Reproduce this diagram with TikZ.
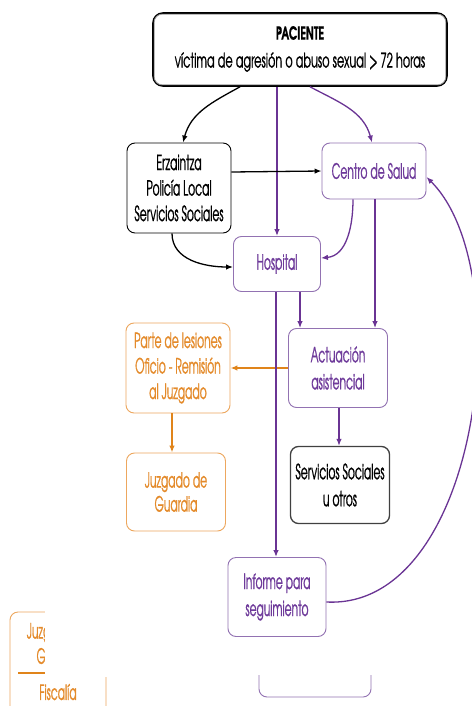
\documentclass[tikz,border=0pt]{standalone}
\usepackage{fontspec}
\setmainfont{texgyreadventor}[Extension=.otf,UprightFont=*-regular,BoldFont=*-bold,FakeStretch=0.51,FakeBold=0.8,BoldFeatures={FakeStretch=0.6}]
\newfontfamily\subfont{texgyreadventor}[Extension=.otf,UprightFont=*-regular,FakeStretch=0.56,FakeBold=0.8]
\usetikzlibrary{arrows.meta,calc}
\definecolor{pur}{HTML}{6A3494}
\definecolor{purb}{HTML}{9272B2}
\definecolor{purt}{HTML}{6E3A9A}
\definecolor{org}{HTML}{E0841A}
\definecolor{orgb}{HTML}{EDA75E}
\definecolor{orgt}{HTML}{E48A2A}
\tikzset{
  base/.style={rounded corners=8pt, align=center, inner sep=0pt, font=\fontsize{21}{25.5}\selectfont},
  pbox/.style={base, draw=purb, line width=0.9pt, text=purt},
  obox/.style={base, draw=orgb, line width=0.9pt, text=orgt},
  kbox/.style={base, draw=black, line width=0.9pt, text=black},
  gbox/.style={base, draw=black!75, line width=1.3pt, text=black},
  tip/.style={-{Latex[length=7pt,width=5.5pt]}},
  pline/.style={tip, draw=pur, line width=1.3pt},
  kline/.style={tip, draw=black, line width=1.3pt},
  oline/.style={tip, draw=org, line width=1.6pt},
}
\begin{document}
\begin{tikzpicture}[x=1pt,y=-1pt]
\useasboundingbox (0,0) rectangle (471,706);
\fill[white] (0,0) rectangle (471,706);

% nodes
\node[gbox, draw=black, line width=1.6pt, rounded corners=10pt, minimum width=294pt, minimum height=73pt] (pac) at (300,49.5) {};
\draw[black!40, line width=0.8pt, rounded corners=8pt] ([shift={(2pt,-2pt)}]pac.north west) rectangle ([shift={(-2pt,2pt)}]pac.south east);
\node[font=\fontsize{18}{20}\selectfont\bfseries] (pact) at (300,33) {PACIENTE};
\node[font=\fontsize{20}{22}\subfont] (pacs) at (300,62) {víctima de agresión o abuso sexual > 72 horas};

\node[kbox, minimum width=104pt, minimum height=90pt] (erz) at (179,188) {Erzaintza\\Policía Local\\Servicios Sociales};
\node[pbox, minimum width=104pt, minimum height=56pt] (cen) at (374,171) {Centro de Salud};
\node[pbox, minimum width=87pt, minimum height=55pt] (hos) at (277,264) {Hospital};
\node[pbox, minimum width=99pt, minimum height=79pt, font=\fontsize{21}{27}\selectfont] (act) at (338,368) {Actuación\\asistencial};
\node[obox, minimum width=104pt, minimum height=90pt] (par) at (178,368) {Parte de lesiones\\Oficio - Remisión\\al Juzgado};
\node[obox, minimum width=99pt, minimum height=78pt, font=\fontsize{21}{24}\selectfont] (juz) at (176,492) {Juzgado de\\Guardia};
\node[gbox, minimum width=99pt, minimum height=77pt, font=\fontsize{21}{27}\selectfont] (ser) at (340,485) {Servicios Sociales\\u otros};
\node[pbox, minimum width=98pt, minimum height=79pt, font=\fontsize{21}{27}\selectfont] (inf) at (277,597) {Informe para\\seguimiento};

% connectors
\draw[oline] (act.west) -- (par.east);
\draw[oline] ([xshift=-6pt]par.south) -- ([xshift=-6pt]par.south |- juz.north);
\draw[kline] ([xshift=-60pt]pac.south) to[out=209,in=75] ([xshift=4pt]erz.north);
\draw[pline] ([xshift=10pt]pac.south) to[out=-28,in=105] ([xshift=-2pt]cen.north);
\draw[pline, line width=1.6pt] (pac.south -| hos.north) -- (hos.north);
\draw[kline] ([yshift=16pt]erz.east) -- (cen.west);
\draw[kline] ([xshift=-7pt]erz.south) to[out=-90,in=180] ([yshift=-3pt]hos.west);
\draw[pline] ([xshift=-21pt]cen.south) to[out=-90,in=5] ([yshift=6pt]hos.east);
\draw[pline] ([xshift=1pt]cen.south) -- ([xshift=1pt]cen.south |- act.north);
\draw[pline] ([xshift=23pt]hos.south) -- ([xshift=23pt]hos.south |- act.north);
\draw[pline, line width=1.8pt] ([xshift=-1pt]hos.south) -- ([xshift=-1pt]hos.south |- inf.north);
\draw[pline] ([xshift=1pt]act.south) -- ([xshift=1pt]act.south |- ser.north);
\draw[pline] ([yshift=-5pt]inf.east) .. controls (480,610) and (520,270) .. ([yshift=-6pt]cen.east);

% clipped remnants at the bottom
\draw[draw=orgb, line width=0.9pt, rounded corners=8pt] (10,612) rectangle (106,724);
\node[text=orgt, font=\fontsize{21}{24}\selectfont] (rj) at (58,633) {Juzgado de};
\node[text=orgt, font=\fontsize{21}{24}\selectfont] (rg) at (58,656) {Guardia};
\draw[draw=org, line width=1.3pt] (18,673) -- (98,673);
\node[text=orgt, font=\fontsize{21}{24}\selectfont] (rf) at (58,692) {Fiscalía};
\fill[white] (45,603) rectangle (118,677);
\draw[draw=purb, line width=0.9pt, rounded corners=8pt] (259,648) rectangle (371,697);
\fill[white] (255,642) rectangle (376,675);
\end{tikzpicture}
\end{document}
